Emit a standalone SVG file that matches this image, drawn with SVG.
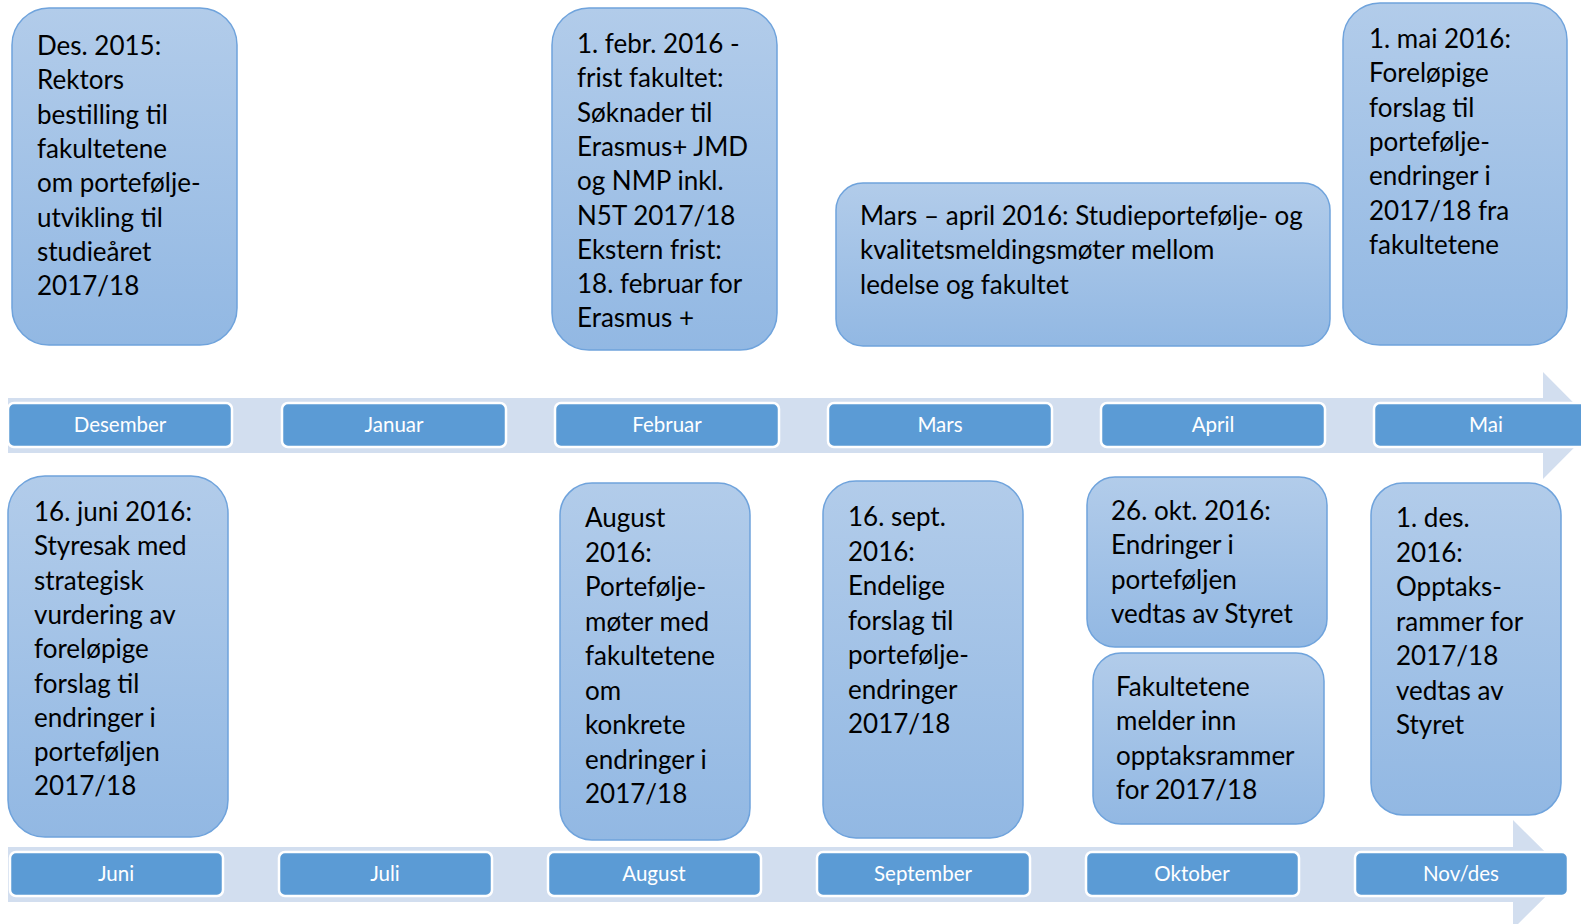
<svg xmlns="http://www.w3.org/2000/svg" width="1581" height="924" viewBox="0 0 1581 924">
<defs>
<linearGradient id="nodeFill" x1="0" y1="0" x2="0" y2="1">
<stop offset="0" stop-color="#B2CCEA"/>
<stop offset="1" stop-color="#92B8E3"/>
</linearGradient>
<style>
.node{fill:url(#nodeFill);stroke:#6FA3DC;stroke-width:1.5}
.band{fill:#D2DEEF}
.month{fill:#5B9BD5;stroke:#FFFFFF;stroke-width:2.5}
.ntext{font-family:Lato,"Liberation Sans",sans-serif;font-size:26px;fill:#000000}
.mtext{font-family:Lato,"Liberation Sans",sans-serif;font-size:20.5px;fill:#FFFFFF;text-anchor:middle}
</style>
</defs>
<rect width="1581" height="924" fill="#FFFFFF"/>

<g id="timeline-top">
<path class="band" d="M8,398 H1543 V372 L1596,425.5 L1543,479 V453 H8 Z"/>
</g>
<g id="timeline-bottom">
<path class="band" d="M8,847 H1513 V820 L1568,874.5 L1513,929 V902 H8 Z"/>
</g>

<g id="months-top">
<g id="m-desember"><rect class="month" x="8" y="403" width="224" height="44" rx="6"/><text class="mtext" x="120" y="432">Desember</text></g>
<g id="m-januar"><rect class="month" x="282" y="403" width="224" height="44" rx="6"/><text class="mtext" x="394" y="432">Januar</text></g>
<g id="m-februar"><rect class="month" x="555" y="403" width="224" height="44" rx="6"/><text class="mtext" x="667" y="432">Februar</text></g>
<g id="m-mars"><rect class="month" x="828" y="403" width="224" height="44" rx="6"/><text class="mtext" x="940" y="432">Mars</text></g>
<g id="m-april"><rect class="month" x="1101" y="403" width="224" height="44" rx="6"/><text class="mtext" x="1213" y="432">April</text></g>
<g id="m-mai"><rect class="month" x="1374" y="403" width="224" height="44" rx="6"/><text class="mtext" x="1486" y="432">Mai</text></g>
</g>

<g id="months-bottom">
<g id="m-juni"><rect class="month" x="10" y="852" width="213" height="44" rx="6"/><text class="mtext" x="116" y="881">Juni</text></g>
<g id="m-juli"><rect class="month" x="279" y="852" width="213" height="44" rx="6"/><text class="mtext" x="385" y="881">Juli</text></g>
<g id="m-august"><rect class="month" x="548" y="852" width="213" height="44" rx="6"/><text class="mtext" x="654" y="881">August</text></g>
<g id="m-september"><rect class="month" x="817" y="852" width="213" height="44" rx="6"/><text class="mtext" x="923" y="881">September</text></g>
<g id="m-oktober"><rect class="month" x="1086" y="852" width="213" height="44" rx="6"/><text class="mtext" x="1192" y="881">Oktober</text></g>
<g id="m-novdes"><rect class="month" x="1355" y="852" width="213" height="44" rx="6"/><text class="mtext" x="1461" y="881">Nov/des</text></g>
</g>

<g id="node-des2015">
<rect class="node" x="12" y="8" width="225" height="337" rx="37"/>
<text class="ntext" x="37" y="55">
<tspan x="37" dy="0">Des. 2015:</tspan>
<tspan x="37" dy="34.3">Rektors</tspan>
<tspan x="37" dy="34.3">bestilling til</tspan>
<tspan x="37" dy="34.3">fakultetene</tspan>
<tspan x="37" dy="34.3">om portefølje-</tspan>
<tspan x="37" dy="34.3">utvikling til</tspan>
<tspan x="37" dy="34.3">studieåret</tspan>
<tspan x="37" dy="34.3">2017/18</tspan>
</text>
</g>

<g id="node-febr2016">
<rect class="node" x="552" y="8" width="225" height="342" rx="37"/>
<text class="ntext" x="577" y="53">
<tspan x="577" dy="0">1. febr. 2016 -</tspan>
<tspan x="577" dy="34.3">frist fakultet:</tspan>
<tspan x="577" dy="34.3">Søknader til</tspan>
<tspan x="577" dy="34.3">Erasmus+ JMD</tspan>
<tspan x="577" dy="34.3">og NMP inkl.</tspan>
<tspan x="577" dy="34.3">N5T 2017/18</tspan>
<tspan x="577" dy="34.3">Ekstern frist:</tspan>
<tspan x="577" dy="34.3">18. februar for</tspan>
<tspan x="577" dy="34.3">Erasmus +</tspan>
</text>
</g>

<g id="node-mars-april">
<rect class="node" x="836" y="183" width="494" height="163" rx="27"/>
<text class="ntext" x="860" y="225">
<tspan x="860" dy="0">Mars – april 2016: Studieportefølje- og</tspan>
<tspan x="860" dy="34.3">kvalitetsmeldingsmøter mellom</tspan>
<tspan x="860" dy="34.3">ledelse og fakultet</tspan>
</text>
</g>

<g id="node-mai2016">
<rect class="node" x="1343" y="3" width="224" height="342" rx="37"/>
<text class="ntext" x="1369" y="48">
<tspan x="1369" dy="0">1. mai 2016:</tspan>
<tspan x="1369" dy="34.3">Foreløpige</tspan>
<tspan x="1369" dy="34.3">forslag til</tspan>
<tspan x="1369" dy="34.3">portefølje-</tspan>
<tspan x="1369" dy="34.3">endringer i</tspan>
<tspan x="1369" dy="34.3">2017/18 fra</tspan>
<tspan x="1369" dy="34.3">fakultetene</tspan>
</text>
</g>

<g id="node-juni2016">
<rect class="node" x="8" y="476" width="220" height="361" rx="37"/>
<text class="ntext" x="34" y="521">
<tspan x="34" dy="0">16. juni 2016:</tspan>
<tspan x="34" dy="34.3">Styresak med</tspan>
<tspan x="34" dy="34.3">strategisk</tspan>
<tspan x="34" dy="34.3">vurdering av</tspan>
<tspan x="34" dy="34.3">foreløpige</tspan>
<tspan x="34" dy="34.3">forslag til</tspan>
<tspan x="34" dy="34.3">endringer i</tspan>
<tspan x="34" dy="34.3">porteføljen</tspan>
<tspan x="34" dy="34.3">2017/18</tspan>
</text>
</g>

<g id="node-august2016">
<rect class="node" x="560" y="483" width="190" height="357" rx="32"/>
<text class="ntext" x="585" y="527">
<tspan x="585" dy="0">August</tspan>
<tspan x="585" dy="34.5">2016:</tspan>
<tspan x="585" dy="34.5">Portefølje-</tspan>
<tspan x="585" dy="34.5">møter med</tspan>
<tspan x="585" dy="34.5">fakultetene</tspan>
<tspan x="585" dy="34.5">om</tspan>
<tspan x="585" dy="34.5">konkrete</tspan>
<tspan x="585" dy="34.5">endringer i</tspan>
<tspan x="585" dy="34.5">2017/18</tspan>
</text>
</g>

<g id="node-sept2016">
<rect class="node" x="823" y="481" width="200" height="357" rx="33"/>
<text class="ntext" x="848" y="526">
<tspan x="848" dy="0">16. sept.</tspan>
<tspan x="848" dy="34.5">2016:</tspan>
<tspan x="848" dy="34.5">Endelige</tspan>
<tspan x="848" dy="34.5">forslag til</tspan>
<tspan x="848" dy="34.5">portefølje-</tspan>
<tspan x="848" dy="34.5">endringer</tspan>
<tspan x="848" dy="34.5">2017/18</tspan>
</text>
</g>

<g id="node-okt2016">
<rect class="node" x="1087" y="477" width="240" height="170" rx="28"/>
<text class="ntext" x="1111" y="520">
<tspan x="1111" dy="0">26. okt. 2016:</tspan>
<tspan x="1111" dy="34.3">Endringer i</tspan>
<tspan x="1111" dy="34.3">porteføljen</tspan>
<tspan x="1111" dy="34.3">vedtas av Styret</tspan>
</text>
</g>

<g id="node-fakultetene">
<rect class="node" x="1093" y="653" width="231" height="171" rx="28"/>
<text class="ntext" x="1116" y="696">
<tspan x="1116" dy="0">Fakultetene</tspan>
<tspan x="1116" dy="34.3">melder inn</tspan>
<tspan x="1116" dy="34.3">opptaksrammer</tspan>
<tspan x="1116" dy="34.3">for 2017/18</tspan>
</text>
</g>

<g id="node-des2016">
<rect class="node" x="1371" y="483" width="190" height="332" rx="32"/>
<text class="ntext" x="1396" y="527">
<tspan x="1396" dy="0">1. des.</tspan>
<tspan x="1396" dy="34.5">2016:</tspan>
<tspan x="1396" dy="34.5">Opptaks-</tspan>
<tspan x="1396" dy="34.5">rammer for</tspan>
<tspan x="1396" dy="34.5">2017/18</tspan>
<tspan x="1396" dy="34.5">vedtas av</tspan>
<tspan x="1396" dy="34.5">Styret</tspan>
</text>
</g>

<g id="connectors"></g>
</svg>
